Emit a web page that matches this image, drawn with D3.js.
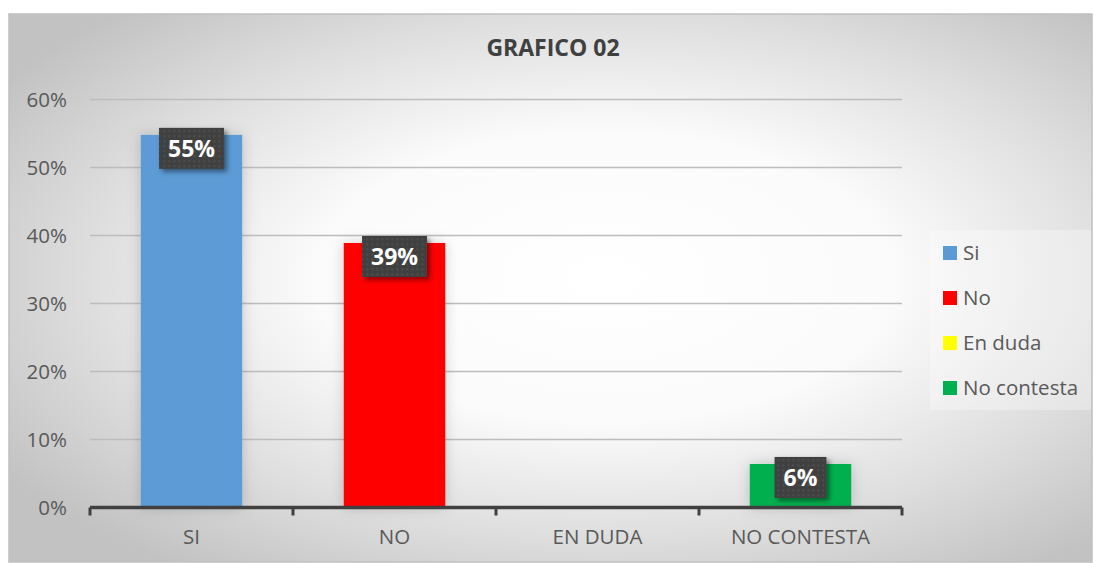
<!DOCTYPE html>
<html>
<head>
<meta charset="utf-8">
<script src="https://cdn.jsdelivr.net/npm/d3@7"></script>
<style>
  body { margin: 0; background: #fff; }
  svg { display: block; font-family: "Open Sans", "Noto Sans", sans-serif; }
</style>
</head>
<body>
<svg id="chart" width="1094" height="563"></svg>
<script>
// data
var categories = ["SI", "NO", "EN DUDA", "NO CONTESTA"];
var seriesNames = ["Si", "No", "En duda", "No contesta"];
var values = [0.548, 0.389, 0, 0.064];
var colors = ["#5b9bd5", "#ff0000", "#ffff00", "#00b050"];
var yTicks = [0, 0.1, 0.2, 0.3, 0.4, 0.5, 0.6];

var svg = d3.select('#chart');
var defs = svg.append('defs');

/* background gradient */
var bg = defs.append('radialGradient')
    .attr('id', 'bgGrad')
    .attr('cx', '55%')
    .attr('cy', '48%')
    .attr('r', '66%');
bg.append('stop').attr('offset', '0%').attr('stop-color', '#ffffff');
bg.append('stop').attr('offset', '40%').attr('stop-color', '#fbfbfb');
bg.append('stop').attr('offset', '70%').attr('stop-color', '#e0e0e0');
bg.append('stop').attr('offset', '100%').attr('stop-color', '#c2c2c2');

// dotted pattern for the data labels
var pat = defs.append('pattern')
    .attr('id', 'dots')
    .attr('width', 5)
    .attr('height', 5)
    .attr('patternUnits', 'userSpaceOnUse');
pat.append('rect').attr('width', 5).attr('height', 5).attr('fill', '#404040');
pat.append('rect').attr('x', 2).attr('y', 2).attr('width', 1.5).attr('height', 1.5).attr('fill', '#5a5a5a');

var lblShadow = defs.append('filter').attr('id', 'lblShadow')
    .attr('x', '-30%').attr('y', '-30%').attr('width', '160%').attr('height', '160%');
lblShadow.append('feDropShadow')
    .attr('dx', 3).attr('dy', 3).attr('stdDeviation', 2.5)
    .attr('flood-color', '#000').attr('flood-opacity', 0.45);

var barGlow = defs.append('filter').attr('id', 'barGlow')
    .attr('x', '-40%').attr('y', '-40%').attr('width', '180%').attr('height', '180%');
barGlow.append('feDropShadow')
    .attr('dx', 0).attr('dy', 0).attr('stdDeviation', 7)
    .attr('flood-color', '#000').attr('flood-opacity', 0.18);

svg.append('rect')
    .attr('x', 9).attr('y', 14)
    .attr('width', 1083).attr('height', 548)
    .attr('fill', 'url(#bgGrad)')
    .attr('stroke', '#c0c0c0')
    .attr('stroke-width', 1.5);

/* scales */
var x = d3.scaleBand()
    .domain(categories)
    .range([90, 902])
    .paddingInner(0.5)
    .paddingOuter(0.25);

var y = d3.scaleLinear()
    .domain([0, 0.6])
    .range([507.5, 99.5]);

// title
svg.append('text')
    .attr('x', 553)
    .attr('y', 56)
    .attr('text-anchor', 'middle')
    .attr('font-size', 23)
    .attr('font-weight', 'bold')
    .attr('fill', '#404040')
    .text('GRAFICO 02');

// gridlines
svg.append('g')
    .selectAll('line')
    .data(yTicks.filter(function(d) { return d > 0; }))
    .join('line')
    .attr('x1', 90).attr('x2', 902)
    .attr('y1', function(d) { return y(d); })
    .attr('y2', function(d) { return y(d); })
    .attr('stroke', '#bdbdbd')
    .attr('stroke-width', 1.3);

// y axis labels
var yAxis = d3.axisLeft(y)
    .tickValues(yTicks)
    .tickFormat(d3.format('.0%'))
    .tickSize(0)
    .tickPadding(23);

var yg = svg.append('g')
    .attr('transform', 'translate(90,0)')
    .call(yAxis)
    .attr('font-family', null)
    .attr('font-size', null);
yg.select('.domain').remove();
yg.selectAll('text')
    .attr('font-size', 20.5)
    .attr('fill', '#595959');

// bars
svg.append('g')
    .selectAll('rect')
    .data(values)
    .join('rect')
    .attr('x', function(d, i) { return x(categories[i]); })
    .attr('y', function(d) { return y(d); })
    .attr('width', x.bandwidth())
    .attr('height', function(d) { return y(0) - y(d); })
    .attr('fill', function(d, i) { return colors[i]; })
    .attr('filter', 'url(#barGlow)');

// x axis
var step = x.step();
var xg = svg.append('g')
    .attr('transform', 'translate(0,' + y(0) + ')')
    .call(d3.axisBottom(x).tickSize(0).tickPadding(22))
    .attr('font-family', null)
    .attr('font-size', null);
xg.select('.domain').remove();
xg.selectAll('text')
    .attr('font-size', 20.5)
    .attr('fill', '#595959');

var bounds = categories.map(function(c) { return x(c) - step * x.paddingOuter(); });
bounds.push(x.range()[1]);

xg.append('line')
    .attr('x1', x.range()[0]).attr('x2', x.range()[1])
    .attr('stroke', '#404040')
    .attr('stroke-width', 3.5);
xg.selectAll('.bound')
    .data(bounds)
    .join('line')
    .attr('class', 'bound')
    .attr('x1', function(d) { return d; })
    .attr('x2', function(d) { return d; })
    .attr('y1', 0).attr('y2', 8)
    .attr('stroke', '#404040')
    .attr('stroke-width', 3);

// data labels
var fmt = d3.format('.0%');
var labels = svg.append('g')
    .selectAll('g')
    .data(values.map(function(v, i) { return {v: v, c: categories[i]}; })
        .filter(function(d) { return d.v > 0; }))
    .join('g')
    .attr('transform', function(d) {
        return 'translate(' + (x(d.c) + x.bandwidth() / 2) + ',' + (y(d.v) + 13.5) + ')';
    });

labels.each(function(d) {
    var g = d3.select(this);
    var t = g.append('text')
        .attr('text-anchor', 'middle')
        .attr('dy', '0.36em')
        .attr('font-size', 23)
        .attr('font-weight', 'bold')
        .attr('fill', '#ffffff')
        .text(fmt(d.v));
    var w = t.node().getComputedTextLength() + 18;
    g.insert('rect', 'text')
        .attr('x', -w / 2)
        .attr('y', -20.5)
        .attr('width', w)
        .attr('height', 41)
        .attr('fill', 'url(#dots)')
        .attr('filter', 'url(#lblShadow)');
});

// legend
var legend = svg.append('g');
legend.append('rect')
    .attr('x', 930).attr('y', 230)
    .attr('width', 161).attr('height', 180)
    .attr('fill', '#ffffff')
    .attr('fill-opacity', 0.3);

var items = legend.selectAll('g.item')
    .data(seriesNames)
    .join('g')
    .attr('class', 'item')
    .attr('transform', function(d, i) { return 'translate(943,' + (253 + i * 45) + ')'; });
items.append('rect')
    .attr('y', -7).attr('width', 14).attr('height', 14)
    .attr('fill', function(d, i) { return colors[i]; });
items.append('text')
    .attr('x', 20)
    .attr('dy', '0.35em')
    .attr('font-size', 20.5)
    .attr('fill', '#595959')
    .text(function(d) { return d; });
</script>
</body>
</html>
